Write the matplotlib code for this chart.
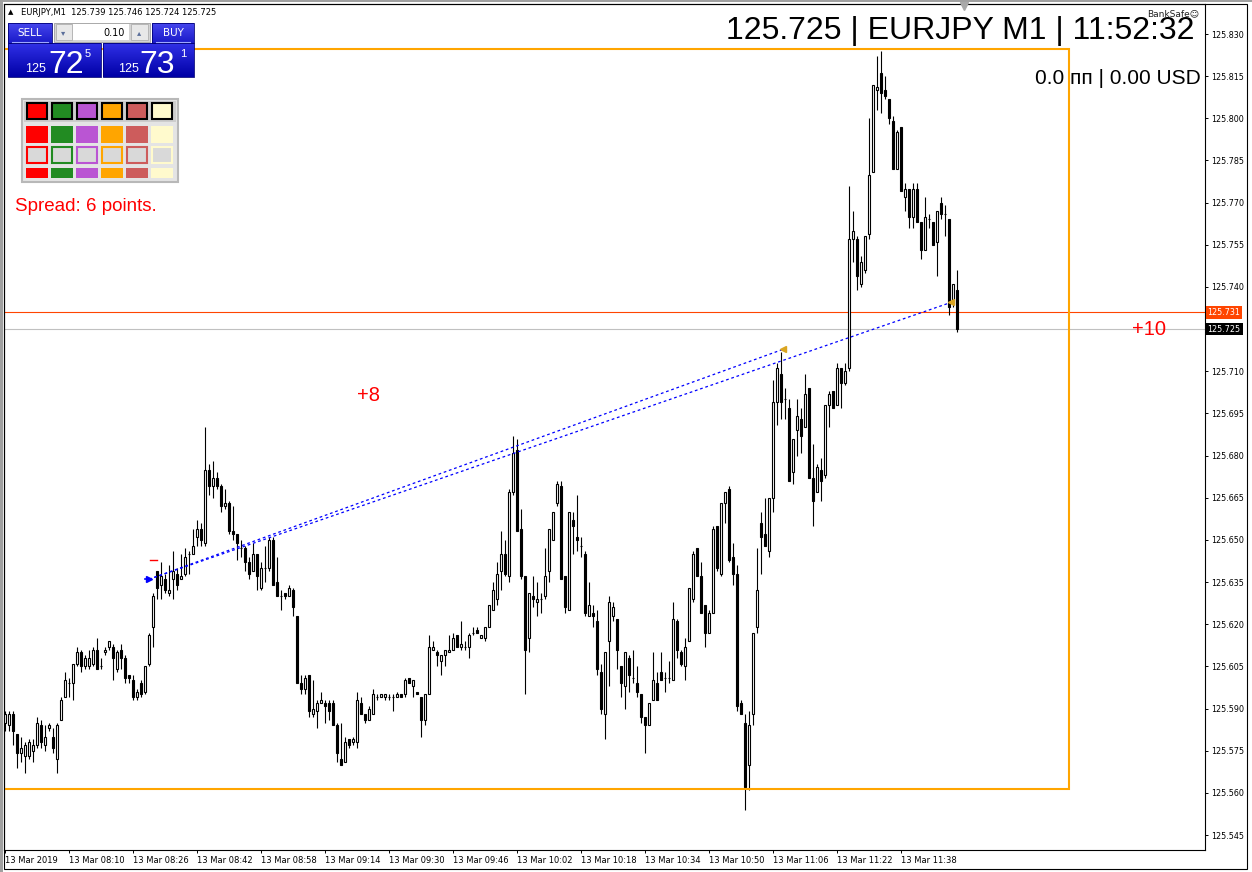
import matplotlib
matplotlib.use("Agg")
import matplotlib.pyplot as plt
from matplotlib.patches import Rectangle
from matplotlib.transforms import blended_transform_factory
from matplotlib.colors import LinearSegmentedColormap
import numpy as np

# ---------------- data ----------------
SYMBOL = "EURJPY"
PERIOD = "M1"
SERVER_TIME = "11:52:32"
bid = 125.725
ask = 125.731

time_labels = ["13 Mar 2019", "13 Mar 08:10", "13 Mar 08:26", "13 Mar 08:42", "13 Mar 08:58",
               "13 Mar 09:14", "13 Mar 09:30", "13 Mar 09:46", "13 Mar 10:02", "13 Mar 10:18",
               "13 Mar 10:34", "13 Mar 10:50", "13 Mar 11:06", "13 Mar 11:22", "13 Mar 11:38"]
time_label_bars = [0, 16, 32, 48, 64, 80, 96, 112, 128, 144, 160, 176, 192, 208, 224]

price_ticks = [125.545, 125.560, 125.575, 125.590, 125.605, 125.620, 125.635, 125.650,
               125.665, 125.680, 125.695, 125.710, 125.725, 125.740, 125.755, 125.770,
               125.785, 125.800, 125.815, 125.830]

opens = [
125.585,125.584,125.588,125.581,125.574,125.573,125.573,125.575,125.577,125.584,
125.577,125.583,125.580,125.572,125.586,125.594,125.599,125.599,125.606,125.610,
125.605,125.605,125.606,125.611,125.605,125.610,125.612,125.612,125.604,125.611,
125.608,125.602,125.600,125.594,125.599,125.596,125.606,125.619,125.639,125.634,
125.636,125.631,125.636,125.638,125.636,125.638,125.645,125.645,125.651,125.654,
125.649,125.675,125.669,125.672,125.669,125.662,125.663,125.653,125.652,125.647,
125.647,125.642,125.639,125.645,125.633,125.640,125.640,125.650,125.635,125.630,
125.631,125.630,125.632,125.623,125.599,125.597,125.602,125.588,125.589,125.592,
125.592,125.592,125.592,125.584,125.572,125.571,125.579,125.578,125.578,125.592,
125.588,125.586,125.588,125.594,125.594,125.594,125.594,125.594,125.594,125.595,
125.595,125.601,125.598,125.596,125.594,125.586,125.595,125.611,125.610,125.607,
125.609,125.610,125.611,125.616,125.612,125.612,125.612,125.617,125.618,125.615,
125.615,125.619,125.625,125.629,125.639,125.645,125.637,125.667,125.682,125.654,
125.637,125.615,125.630,125.628,125.629,125.630,125.639,125.650,125.663,125.669,
125.637,125.625,125.657,125.651,125.648,125.645,125.623,125.624,125.621,125.603,
125.588,125.614,125.623,125.622,125.605,125.598,125.608,125.601,125.599,125.595,
125.587,125.584,125.593,125.599,125.603,125.601,125.601,125.600,125.621,125.610,
125.605,125.614,125.629,125.647,125.637,125.627,125.617,125.624,125.655,125.638,
125.663,125.668,125.644,125.638,125.592,125.585,125.570,125.588,125.619,125.656,
125.652,125.646,125.665,125.699,125.709,125.700,125.697,125.674,125.689,125.693,
125.690,125.704,125.672,125.667,125.675,125.673,125.698,125.703,125.698,125.711,
125.706,125.711,125.757,125.757,125.741,125.746,125.759,125.781,125.810,125.816,
125.810,125.807,125.799,125.782,125.797,125.772,125.775,125.765,125.775,125.763,
125.753,125.764,125.763,125.756,125.770,125.766,125.764,125.734,125.739]

highs = [
125.589,125.589,125.589,125.581,125.580,125.578,125.579,125.579,125.587,125.586,
125.584,125.585,125.583,125.585,125.594,125.603,125.601,125.606,125.612,125.611,
125.609,125.611,125.612,125.615,125.608,125.612,125.614,125.613,125.611,125.613,
125.609,125.602,125.602,125.597,125.600,125.605,125.617,125.631,125.639,125.642,
125.638,125.641,125.646,125.640,125.645,125.647,125.646,125.654,125.657,125.656,
125.690,125.677,125.678,125.674,125.670,125.668,125.664,125.662,125.652,125.650,
125.648,125.644,125.649,125.645,125.642,125.648,125.651,125.651,125.644,125.632,
125.631,125.634,125.633,125.623,125.602,125.602,125.602,125.600,125.593,125.596,
125.593,125.593,125.593,125.585,125.585,125.580,125.579,125.580,125.596,125.594,
125.588,125.591,125.597,125.595,125.595,125.595,125.595,125.595,125.596,125.595,
125.601,125.601,125.600,125.596,125.594,125.595,125.616,125.614,125.611,125.609,
125.611,125.616,125.617,125.616,125.621,125.614,125.617,125.619,125.619,125.616,
125.619,125.627,125.635,125.642,125.653,125.650,125.668,125.687,125.686,125.661,
125.637,125.631,125.637,125.635,125.631,125.647,125.654,125.660,125.671,125.671,
125.637,125.660,125.660,125.666,125.651,125.646,125.635,125.627,125.625,125.606,
125.610,125.630,125.628,125.622,125.605,125.610,125.609,125.611,125.605,125.595,
125.587,125.592,125.610,125.603,125.610,125.603,125.607,125.628,125.622,125.611,
125.615,125.633,125.646,125.647,125.642,125.627,125.625,125.655,125.655,125.663,
125.667,125.669,125.649,125.641,125.593,125.588,125.589,125.617,125.647,125.660,
125.665,125.665,125.707,125.713,125.717,125.704,125.700,125.686,125.700,125.697,
125.709,125.704,125.684,125.677,125.679,125.698,125.703,125.703,125.713,125.711,
125.713,125.776,125.767,125.758,125.751,125.758,125.800,125.812,125.822,125.824,
125.815,125.807,125.801,125.796,125.797,125.777,125.775,125.777,125.777,125.763,
125.772,125.766,125.763,125.767,125.772,125.769,125.764,125.741,125.746]

lows = [
125.582,125.582,125.577,125.569,125.571,125.567,125.572,125.571,125.576,125.576,
125.575,125.582,125.574,125.567,125.586,125.594,125.594,125.593,125.605,125.603,
125.604,125.604,125.605,125.604,125.604,125.609,125.611,125.600,125.603,125.604,
125.599,125.599,125.593,125.593,125.594,125.595,125.605,125.612,125.629,125.629,
125.631,125.630,125.629,125.632,125.636,125.637,125.638,125.645,125.648,125.648,
125.648,125.666,125.665,125.668,125.660,125.661,125.652,125.650,125.643,125.644,
125.639,125.636,125.639,125.632,125.632,125.635,125.639,125.634,125.630,125.625,
125.629,125.630,125.623,125.599,125.595,125.595,125.587,125.587,125.583,125.592,
125.585,125.586,125.584,125.571,125.570,125.571,125.576,125.577,125.576,125.588,
125.585,125.586,125.588,125.593,125.594,125.593,125.593,125.589,125.594,125.594,
125.594,125.599,125.594,125.595,125.580,125.584,125.595,125.611,125.605,125.602,
125.605,125.610,125.611,125.612,125.611,125.611,125.608,125.616,125.617,125.615,
125.614,125.619,125.625,125.627,125.632,125.637,125.635,125.666,125.653,125.636,
125.595,125.610,125.626,125.623,125.624,125.629,125.635,125.650,125.662,125.636,
125.624,125.625,125.645,125.646,125.644,125.623,125.623,125.619,125.602,125.588,
125.579,125.598,125.621,125.604,125.594,125.590,125.596,125.599,125.594,125.585,
125.574,125.584,125.593,125.593,125.600,125.596,125.599,125.600,125.608,125.605,
125.600,125.614,125.628,125.637,125.624,125.612,125.617,125.624,125.639,125.637,
125.656,125.642,125.634,125.589,125.588,125.554,125.561,125.584,125.617,125.638,
125.648,125.644,125.660,125.691,125.693,125.693,125.671,125.670,125.680,125.681,
125.690,125.672,125.655,125.667,125.664,125.672,125.690,125.697,125.698,125.697,
125.705,125.710,125.749,125.739,125.740,125.745,125.757,125.781,125.803,125.802,
125.807,125.798,125.782,125.782,125.774,125.767,125.761,125.761,125.763,125.750,
125.753,125.761,125.755,125.744,125.764,125.758,125.730,125.733,125.724]

closes = [
125.588,125.588,125.582,125.574,125.576,125.577,125.578,125.577,125.585,125.578,
125.580,125.584,125.576,125.584,125.593,125.600,125.599,125.606,125.610,125.605,
125.608,125.608,125.611,125.604,125.605,125.611,125.614,125.608,125.610,125.608,
125.601,125.601,125.594,125.596,125.595,125.605,125.616,125.630,125.633,125.637,
125.632,125.632,125.639,125.634,125.637,125.644,125.645,125.648,125.654,125.650,
125.675,125.669,125.672,125.669,125.662,125.663,125.653,125.652,125.649,125.647,
125.642,125.638,125.645,125.637,125.640,125.640,125.650,125.634,125.630,125.630,
125.630,125.633,125.626,125.599,125.597,125.601,125.589,125.590,125.592,125.593,
125.591,125.589,125.584,125.574,125.570,125.578,125.577,125.579,125.593,125.588,
125.586,125.590,125.595,125.594,125.595,125.595,125.594,125.594,125.595,125.594,
125.600,125.599,125.600,125.595,125.586,125.595,125.612,125.612,125.609,125.609,
125.611,125.611,125.615,125.612,125.613,125.612,125.616,125.617,125.617,125.616,
125.619,125.627,125.632,125.638,125.645,125.638,125.667,125.681,125.653,125.637,
125.611,125.631,125.629,125.629,125.629,125.637,125.654,125.660,125.670,125.636,
125.626,125.660,125.655,125.650,125.648,125.624,125.627,125.623,125.604,125.590,
125.610,125.628,125.626,125.611,125.599,125.610,125.602,125.601,125.596,125.587,
125.584,125.592,125.600,125.593,125.600,125.601,125.601,125.622,125.611,125.606,
125.612,125.633,125.645,125.637,125.624,125.617,125.624,125.654,125.640,125.663,
125.667,125.643,125.638,125.591,125.588,125.562,125.584,125.617,125.632,125.651,
125.648,125.665,125.699,125.711,125.699,125.700,125.671,125.686,125.694,125.687,
125.702,125.672,125.664,125.676,125.671,125.698,125.702,125.697,125.711,125.706,
125.710,125.757,125.760,125.744,125.749,125.758,125.780,125.812,125.811,125.809,
125.808,125.800,125.782,125.795,125.774,125.775,125.765,125.775,125.763,125.753,
125.765,125.764,125.755,125.767,125.766,125.766,125.733,125.741,125.725]

# trades (open bar/price, close bars/prices, result labels)
trade_open_bar = 36
trade_open_price = 125.636
trade_open_ask = 125.643
trade_close_bars = [194.5, 236.5]
trade_close_prices = [125.7178, 125.7345]
trade_results = ["+8", "+10"]
result_label_bars = [91, 286]
result_label_prices = [125.7015, 125.725]

# range rectangle
rect_bars = [-5, 266]
rect_prices = [125.5615, 125.8245]

# ---------------- figure ----------------
W, H = 1252, 872
fig = plt.figure(figsize=(W / 100, H / 100), dpi=100)
fig.patch.set_facecolor("white")

ax_l, ax_r, ax_t, ax_b = 4, 1205, 4, 850
ax = fig.add_axes([ax_l / W, (H - ax_b) / H, (ax_r - ax_l) / W, (ax_b - ax_t) / H])
ax.set_facecolor("white")

o = np.array(opens); h = np.array(highs); l = np.array(lows); c = np.array(closes)
x = np.arange(len(o))
up = c >= o

ax.vlines(x, l, h, color="black", lw=0.8, zorder=3)
ax.bar(x[up], (c - o)[up], bottom=o[up], width=0.5, facecolor="white",
       edgecolor="black", lw=0.8, zorder=4)
ax.bar(x[~up], (o - c)[~up], bottom=c[~up], width=0.5, facecolor="black",
       edgecolor="black", lw=0.8, zorder=4)

# bid / ask lines
ax.axhline(ask, color="#FF4500", lw=0.8, zorder=2)
ax.axhline(bid, color="#C0C0C0", lw=0.8, zorder=2)

# range rectangle
ax.add_patch(Rectangle((rect_bars[0], rect_prices[0]), rect_bars[1] - rect_bars[0],
                       rect_prices[1] - rect_prices[0], fill=False,
                       edgecolor="#FFA500", lw=1.5, zorder=5))

# trade lines
for cb, cp in zip(trade_close_bars, trade_close_prices):
    ax.plot([trade_open_bar, cb], [trade_open_price, cp], color="#0000FF",
            lw=0.9, linestyle=(0, (2.2, 2.2)), zorder=6)
    ax.plot(cb, cp, marker="<", color="#DAA520", ms=4, zorder=7)
ax.plot([trade_open_bar - 0.9, trade_open_bar], [trade_open_price] * 2, color="#0000FF", lw=1.2, zorder=7)
ax.plot(trade_open_bar, trade_open_price, marker=">", color="#0000FF", ms=4, zorder=7)
ax.plot([trade_open_bar + 0.2, trade_open_bar + 2.0], [trade_open_ask] * 2, color="#FF0000", lw=1, zorder=7)

for txt, bx, py in zip(trade_results, result_label_bars, result_label_prices):
    ax.text(bx, py, txt, color="#FF0000", fontsize=14.5, family="Liberation Sans",
            ha="center", va="center", zorder=8)

# axes limits / ticks
px_per_bar = 4.0
ax.set_xlim(-0.25, (ax_r - 5) / px_per_bar)
p_top = 125.830 + 30 * 0.285 / 801
p_bot = 125.830 - 816 * 0.285 / 801
ax.set_ylim(p_bot, p_top)

ax.yaxis.tick_right()
ax.set_yticks(price_ticks)
# the tick that coincides with the bid tag is covered by the tag itself
ax.set_yticklabels(["" if abs(p - bid) < 1e-9 else f"{p:.3f}" for p in price_ticks])
ax.tick_params(axis="y", direction="out", length=2.5, width=0.7, pad=2.0,
               labelsize=5.8, colors="black")
ax.set_xticks(time_label_bars)
ax.set_xticklabels(time_labels)
ax.tick_params(axis="x", direction="out", length=2.5, width=0.7, pad=1.5,
               labelsize=6, colors="black")
for lbl in ax.get_xticklabels():
    lbl.set_ha("left")
for sp in ax.spines.values():
    sp.set_color("black")
    sp.set_linewidth(0.8)

# price tags on the axis
trans = blended_transform_factory(ax.transAxes, ax.transData)
ax.text(1.0022, ask, f"{ask:.3f}", transform=trans, fontsize=5.8, color="white",
        ha="left", va="center", clip_on=False, zorder=9,
        bbox=dict(facecolor="#FF4500", edgecolor="none", pad=1.3))
ax.text(1.0022, bid, f"{bid:.3f}", transform=trans, fontsize=5.8, color="white",
        ha="left", va="center", clip_on=False, zorder=9,
        bbox=dict(facecolor="black", edgecolor="none", pad=1.3))

# ---------------- overlay (pixel coordinates) ----------------
ov = fig.add_axes([0, 0, 1, 1], zorder=10)
ov.patch.set_alpha(0)
ov.axis("off")

# window frame
ov.add_patch(Rectangle((0, 0), 3, H, facecolor="#A0A0A0", edgecolor="none"))
ov.add_patch(Rectangle((0, 0), W, 2, facecolor="#A0A0A0", edgecolor="none"))
ov.add_patch(Rectangle((4, 4), 1243, 865, fill=False, edgecolor="black", lw=0.8))

# header
ov.text(8, 12.5, "\u25b2", fontsize=5, va="center", ha="left", color="black")
ov.text(21, 12.5, f"{SYMBOL},{PERIOD}  {opens[-1]:.3f} {highs[-1]:.3f} {lows[-1]:.3f} {closes[-1]:.3f}",
        fontsize=6, va="center", ha="left", color="black")

# one click trading panel
def grad_box(x0, y0, w, hgt, c_top, c_bot):
    cmap = LinearSegmentedColormap.from_list("g", [c_top, c_bot])
    g = np.linspace(0, 1, 50).reshape(-1, 1)
    ov.imshow(g, cmap=cmap, extent=(x0, x0 + w, y0 + hgt, y0), aspect="auto",
              origin="upper", zorder=1, interpolation="bilinear")
    ov.add_patch(Rectangle((x0, y0), w, hgt, fill=False, edgecolor="#00007A", lw=0.6, zorder=2))

grad_box(8, 23, 44, 20, "#4646EE", "#1A1AC8")
grad_box(152, 23, 42, 20, "#4646EE", "#1A1AC8")
grad_box(8, 43, 93, 34, "#3030E6", "#0000A6")
grad_box(103, 43, 91, 34, "#3030E6", "#0000A6")
ov.plot([12, 48], [42, 42], color="#9EA8FF", lw=0.8, zorder=3)
ov.plot([156, 190], [42, 42], color="#9EA8FF", lw=0.8, zorder=3)
ov.text(30, 33, "SELL", color="white", fontsize=7.5, ha="center", va="center", zorder=3)
ov.text(173, 33, "BUY", color="white", fontsize=7.5, ha="center", va="center", zorder=3)

def price_parts(p):
    s = f"{p:.3f}"
    return s[:3], s[4:6], s[6]

for (x_lead, x_big, x_sup), p in zip([(25, 48, 85), (118, 139, 180)], [bid, ask]):
    lead, big, sup = price_parts(p)
    ov.text(x_lead, 72, lead, color="white", fontsize=9, family="Liberation Sans",
            ha="left", va="baseline", zorder=3)
    ov.text(x_big, 73, big, color="white", fontsize=23, family="Liberation Sans",
            ha="left", va="baseline", zorder=3)
    ov.text(x_sup, 57, sup, color="white", fontsize=8, family="Liberation Sans",
            ha="left", va="baseline", zorder=3)

# lot control
ov.add_patch(Rectangle((54, 23), 96, 19, facecolor="#D4D4D4", edgecolor="#A0A0A0", lw=0.6, zorder=2))
ov.add_patch(Rectangle((55.5, 24.5), 16, 16, facecolor="#E8E8E8", edgecolor="#B0B0B0", lw=0.6, zorder=3))
ov.add_patch(Rectangle((73, 24.5), 56, 16, facecolor="white", edgecolor="none", zorder=3))
ov.add_patch(Rectangle((130.5, 24.5), 17, 16, facecolor="#E8E8E8", edgecolor="#B0B0B0", lw=0.6, zorder=3))
ov.text(63.5, 32.5, "\u25be", color="#5A6E9A", fontsize=6, ha="center", va="center", zorder=4)
ov.text(139, 32.5, "\u25b4", color="#5A6E9A", fontsize=6, ha="center", va="center", zorder=4)
ov.text(125, 32.5, "0.10", color="black", fontsize=7, ha="right", va="center", zorder=4)

# colour palette widget
pal_colors = ["#FF0000", "#228B22", "#BA55D3", "#FFA500", "#CD5C5C", "#FFFACD"]
ov.add_patch(Rectangle((22, 99), 156, 83, facecolor="#E4E4E4", edgecolor="#B8B8B8", lw=1.5, zorder=2))
ov.add_patch(Rectangle((24, 101), 152, 21, facecolor="#CDCDCD", edgecolor="none", zorder=2))
sx = [27, 52, 77, 102, 127, 152]
for k, col in enumerate(pal_colors):
    x0 = sx[k]
    ov.add_patch(Rectangle((x0, 103.5), 20, 16, facecolor=col, edgecolor="black", lw=1.5, zorder=3))
    ov.add_patch(Rectangle((x0 - 1, 126), 22, 17, facecolor=col, edgecolor="none", zorder=3))
    ov.add_patch(Rectangle((x0, 147), 20, 16, facecolor="#D9D9D9", edgecolor=col, lw=1.5, zorder=3))
    ov.add_patch(Rectangle((x0 - 1, 168), 22, 10, facecolor=col, edgecolor="none", zorder=3))

spread_pts = int(round((ask - bid) * 1000))
ov.text(15, 206, f"Spread: {spread_pts} points.", color="#FF0000", fontsize=13.5,
        family="Liberation Sans", ha="left", va="center", zorder=3)

# top right info
ov.text(1194, 39.5, f"{bid:.3f} | {SYMBOL} {PERIOD} | {SERVER_TIME}", color="black",
        fontsize=23, family="Liberation Sans", ha="right", va="baseline", zorder=3)
ov.text(1201, 84, "0.0 пп | 0.00 USD", color="black", fontsize=15,
        family="Liberation Sans", ha="right", va="baseline", zorder=3)
ov.text(1199, 13.5, "BankSafe\u263a", color="#202020", fontsize=6.5, ha="right",
        va="center", zorder=3)
ov.plot(964, 6.5, marker="v", color="#A8A8A8", ms=6, zorder=3)

ov.set_xlim(0, W)
ov.set_ylim(H, 0)

fig.savefig("out.png", dpi=100)
